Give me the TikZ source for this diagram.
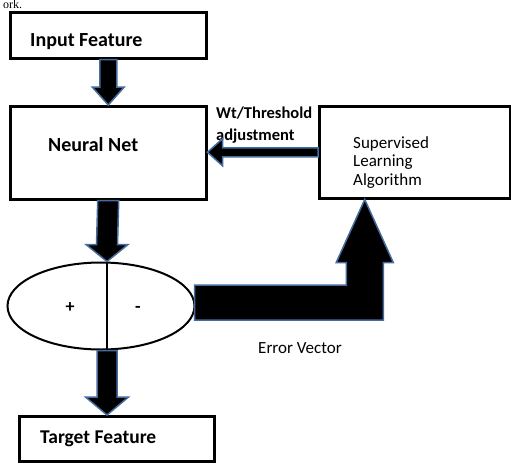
\documentclass[tikz,border=0pt]{standalone}
\usepackage{fontspec}
\setmainfont{Carlito}
\newfontfamily\seriffont{Liberation Serif}
\usetikzlibrary{calc,shapes.geometric}
\definecolor{arrowblue}{RGB}{68,108,160}
\newcommand\dnarrow[5]{\filldraw[blk] ($(#1)+(-#3,0)$) -- ($(#2)+(-#3,-#5)$) -- ($(#2)+(-#4,-#5)$) -- (#2) -- ($(#2)+(#4,-#5)$) -- ($(#2)+(#3,-#5)$) -- ($(#1)+(#3,0)$) -- cycle;}
\newcommand\lfarrow[5]{\filldraw[blk] ($(#1)+(0,-#3)$) -- ($(#2)+(#5,-#3)$) -- ($(#2)+(#5,-#4)$) -- (#2) -- ($(#2)+(#5,#4)$) -- ($(#2)+(#5,#3)$) -- ($(#1)+(0,#3)$) -- cycle;}
\begin{document}
\begin{tikzpicture}[x=1pt,y=-1pt,
  box/.style={draw=black,line width=2.5pt,inner sep=0pt,anchor=north west,fill=white},
  blk/.style={fill=black,draw=arrowblue,line width=1.5pt,line join=miter},
  lbl/.style={anchor=base west,inner sep=0pt},
  bigb/.style={font=\fontsize{20}{24}\selectfont\bfseries},
  medb/.style={font=\fontsize{16.5}{20}\selectfont\bfseries},
  medr/.style={font=\fontsize{17}{20}\selectfont}]
\useasboundingbox (0,0) rectangle (511,463);
% page text fragment
\node[lbl,font=\seriffont\fontsize{12}{14}\selectfont] (ork) at (3,9) {ork.};
% boxes
\node[box,minimum width=196pt,minimum height=46pt] (inp) at (9,11) {};
\node[box,minimum width=196pt,minimum height=93pt] (nn) at (9,105) {};
\node[box,minimum width=191pt,minimum height=92pt] (sup) at (318,105) {};
\node[box,minimum width=195pt,minimum height=45pt] (tgt) at (18,415) {};
\node[draw,ellipse,line width=2pt,minimum width=187pt,minimum height=87pt,inner sep=0pt] (ell) at (101,306) {};
% labels
\node[lbl,bigb] (inpl) at (30,46.5) {Input Feature};
\node[lbl,bigb] (nnl) at (48,151.5) {Neural Net};
\node[lbl,font=\fontsize{19.5}{24}\selectfont\bfseries] (tgtl) at (40,443) {Target Feature};
\node[lbl,medb] (wt1) at (216,118.5) {Wt/Threshold};
\node[lbl,medb] (wt2) at (216,140.5) {adjustment};
\node[lbl,medr] (sup1) at (353,148) {Supervised};
\node[lbl,medr] (sup2) at (353,166.5) {Learning};
\node[lbl,medr] (sup3) at (353,185) {Algorithm};
\node[lbl,medr] (err) at (258,353) {Error Vector};
\node[font=\fontsize{18}{20}\selectfont\bfseries,inner sep=0pt] (plus) at (70,308) {+};
\node[font=\fontsize{18}{20}\selectfont\bfseries,inner sep=0pt] (minus) at (138,309) {-};
% split line in ellipse
\coordinate (etop) at ($(ell.north)+(6,0)$);
\coordinate (ebot) at ($(ell.south)+(6,0)$);
\draw[line width=2pt] (etop) -- (ebot);
% arrows
\coordinate (tgttop) at (ebot |- tgt.north);
\coordinate (nnr) at (nn.east |- sup.west);
\dnarrow{inp.south}{nn.north}{8.5}{16}{18}
\dnarrow{nn.south}{etop}{10.5}{21}{17}
\dnarrow{ebot}{tgttop}{10}{21.5}{18}
\lfarrow{sup.west}{nnr}{4.5}{13.5}{15}
% L-shaped error arrow
\coordinate (Ls) at ($(ell.east)+(-1,-3.5)$);
\coordinate (Lt) at ($(sup.south)+(-50,0)$);
\coordinate (Lc) at (Lt |- Ls);
\filldraw[blk] ($(Ls)+(0,-17.5)$) -- ($(Lc)+(-18.5,-17.5)$) -- ($(Lt)+(-18.5,63)$) -- ($(Lt)+(-28.5,63)$) -- (Lt) -- ($(Lt)+(28.5,63)$) -- ($(Lt)+(18.5,63)$) -- ($(Lc)+(18.5,17.5)$) -- ($(Ls)+(0,17.5)$) -- cycle;
\end{tikzpicture}
\end{document}
